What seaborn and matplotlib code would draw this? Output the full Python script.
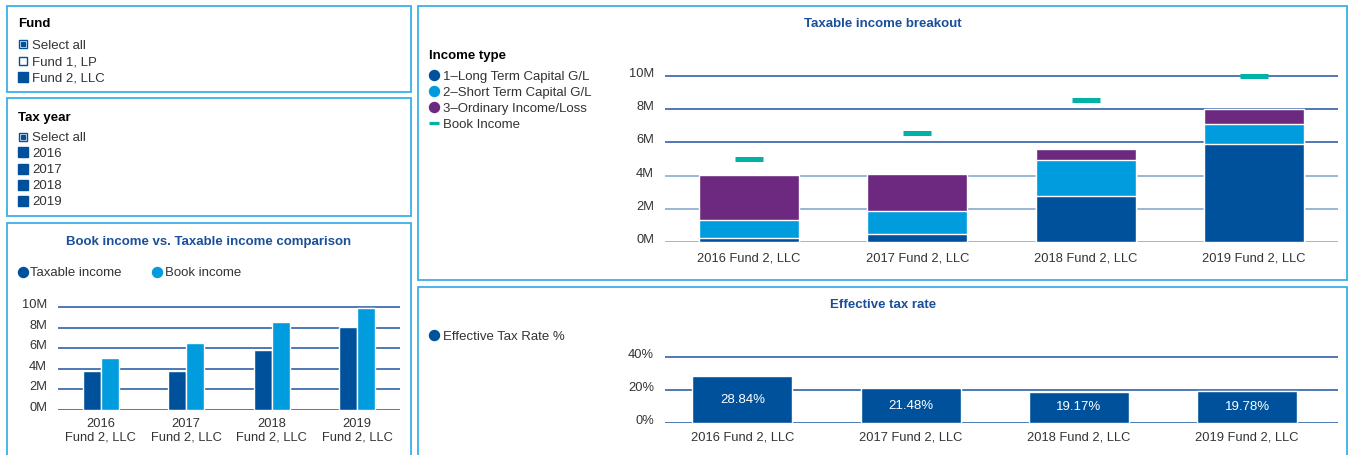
import numpy as np
import pandas as pd
import seaborn as sns
import matplotlib.pyplot as plt
from matplotlib.patches import Rectangle
from matplotlib.lines import Line2D
from matplotlib.transforms import ScaledTranslation

# data (values in millions / percent)
years = ["2016", "2017", "2018", "2019"]
fund_name = "Fund 2, LLC"
taxable_income = [3.80, 3.80, 5.84, 8.08]
book_income = [5.03, 6.55, 8.57, 9.97]
long_term = [0.24, 0.48, 2.78, 5.91]
short_term = [1.09, 1.39, 2.17, 1.21]
ordinary = [2.71, 2.23, 0.66, 0.89]
eff_tax_rate = [28.84, 21.48, 19.17, 19.78]

fund_items = [("all", "Select all"), ("off", "Fund 1, LP"), ("on", "Fund 2, LLC")]
year_items = [("all", "Select all")] + [("on", y) for y in years]
income_types = ["1–Long Term Capital G/L", "2–Short Term Capital G/L", "3–Ordinary Income/Loss"]

DARK = "#00519B"
LIGHT = "#009CDE"
PURPLE = "#6D2880"
TEAL = "#00B2A5"
TITLE = "#1A4F9B"
BORDER = "#3AB0E6"
GRID = "#1F55A0"
GRID_LIGHT = "#7FA3CE"
TXT = "#333333"

sns.set_style("white")
plt.rcParams["font.family"] = ["Liberation Sans", "DejaVu Sans"]

W, H = 1349, 455
fig = plt.figure(figsize=(W / 100, H / 100), dpi=100)


def fx(x):
    return x / W


def fy(y):
    return 1 - y / H


def add_ax(x0, x1, ytop, ybot):
    return fig.add_axes([fx(x0), fy(ybot), (x1 - x0) / W, (ybot - ytop) / H])


def panel(x0, x1, ytop, ybot):
    fig.patches.append(Rectangle((fx(x0), fy(ybot)), (x1 - x0) / W, (ybot - ytop) / H,
                                 transform=fig.transFigure, fill=False,
                                 edgecolor=BORDER, linewidth=1.3))


def label(x, y, s, bold=False, color=TXT, ha="left", size=9.5):
    # y is the visual middle of the capitals, place baseline below it
    fig.text(fx(x), fy(y + 0.36 * size * 100 / 72), s, fontsize=size, color=color, ha=ha,
             va="baseline", fontweight="bold" if bold else "normal")


def dot(x, y, color, marker="o", size=7.2, face=None):
    fig.add_artist(Line2D([fx(x)], [fy(y)], marker=marker, markersize=size,
                          markerfacecolor=face if face else color, markeredgecolor=color,
                          markeredgewidth=1.0, linestyle="none", transform=fig.transFigure))


def checkbox(x, y, state):
    if state == "on":
        dot(x, y, DARK, marker="s", size=6.9)
    else:
        dot(x, y, DARK, marker="s", size=6.2, face="white")
        if state == "all":
            dot(x, y, DARK, marker="s", size=2.2)


def style_axis(ax, ticks, fmt, pad_x, light_below=None):
    ax.set_yticks(ticks)
    ax.set_yticklabels([fmt.format(t) for t in ticks])
    ax.set_xlabel("")
    ax.set_ylabel("")
    sns.despine(ax=ax, left=True, bottom=True)
    ax.tick_params(axis="both", length=0, labelsize=9.3, colors=TXT)
    ax.tick_params(axis="y", pad=8)
    ax.tick_params(axis="x", pad=pad_x)
    ax.grid(axis="y", color=GRID, linewidth=1.1)
    ax.set_axisbelow(True)
    shift = ScaledTranslation(0, 3.5 / 100, fig.dpi_scale_trans)
    for lab in ax.get_yticklabels():
        lab.set_transform(lab.get_transform() + shift)
    if light_below is not None:
        for line, t in zip(ax.get_ygridlines(), ticks):
            if t <= light_below:
                line.set_color(GRID_LIGHT)


# panels
panel(7, 411, 6, 92)
panel(7, 411, 98, 216)
panel(7, 411, 223, 470)
panel(418, 1347, 6, 280)
panel(418, 1347, 287, 470)

# slicers
label(18, 22.5, "Fund", bold=True, color="black")
for i, (state, lab) in enumerate(fund_items):
    y = 44.3 + i * 16.2
    checkbox(22.8, y, state)
    label(32, y, lab)

label(18, 116, "Tax year", bold=True, color="black")
for i, (state, lab) in enumerate(year_items):
    y = 136.5 + i * 16
    checkbox(22.8, y, state)
    label(32, y, lab)

# Book income vs taxable income
label(209, 240.7, "Book income vs. Taxable income comparison", bold=True, color=TITLE, ha="center")
dot(23.3, 271.7, DARK)
label(30, 271.7, "Taxable income")
dot(157.2, 271.7, LIGHT)
label(165, 271.7, "Book income")

cmp_df = pd.DataFrame({
    "cat": [f"{y}\n{fund_name}" for y in years] * 2,
    "value": taxable_income + book_income,
    "kind": ["Taxable income"] * len(years) + ["Book income"] * len(years),
})
ax1 = add_ax(58, 400, 410 - 10.3 * 10.27, 410)
sns.barplot(data=cmp_df, x="cat", y="value", hue="kind",
            palette={"Taxable income": DARK, "Book income": LIGHT},
            width=0.42, gap=0, saturation=1, errorbar=None, legend=False, ax=ax1)
ax1.set_ylim(0, 10.3)
style_axis(ax1, [0, 2, 4, 6, 8, 10], "{}M", 5.5)
for lab in ax1.get_xticklabels():
    lab.set_linespacing(1.25)

# Taxable income breakout
label(883, 22.5, "Taxable income breakout", bold=True, color=TITLE, ha="center")
label(429, 54.7, "Income type", bold=True, color="black")
for i, (lab, col) in enumerate(zip(income_types, [DARK, LIGHT, PURPLE])):
    y = 75.3 + i * 16
    dot(434.3, y, col)
    label(443, y, lab)
fig.add_artist(Line2D([fx(429), fx(439)], [fy(123.3), fy(123.3)], color=TEAL,
                      linewidth=2.3, solid_capstyle="butt", transform=fig.transFigure))
label(443, 123.3, "Book Income")

brk_labels = [f"{y} {fund_name}" for y in years]
lt = np.array(long_term)
st = np.array(short_term)
od = np.array(ordinary)
ax2 = add_ax(665, 1338, 242 - 10.5 * 16.6, 242)
sns.barplot(x=brk_labels, y=lt + st + od, color=PURPLE, width=0.594, saturation=1, errorbar=None, ax=ax2)
sns.barplot(x=brk_labels, y=lt + st, color=LIGHT, width=0.594, saturation=1, errorbar=None, ax=ax2)
sns.barplot(x=brk_labels, y=lt, color=DARK, width=0.594, saturation=1, errorbar=None, ax=ax2)
ax2.plot(np.arange(len(years)), book_income, linestyle="none", marker="_",
         markersize=19.5, markeredgewidth=3.6, color=TEAL)
ax2.set_ylim(0, 10.5)
ax2.set_xlim(-0.5, 3.5)
style_axis(ax2, [0, 2, 4, 6, 8, 10], "{}M", 7.5, light_below=4)

# Effective tax rate
label(883, 303, "Effective tax rate", bold=True, color=TITLE, ha="center")
dot(434.3, 335, DARK)
label(443, 335, "Effective Tax Rate %")

ax3 = add_ax(665, 1338, 423.3 - 42 * 1.65, 423.3)
sns.barplot(x=brk_labels, y=eff_tax_rate, color=DARK, width=0.595, saturation=1, errorbar=None, ax=ax3)
ax3.bar_label(ax3.containers[0], labels=[f"{v:.2f}%" for v in eff_tax_rate],
              label_type="center", color="white", fontsize=9.5)
ax3.set_ylim(0, 42)
ax3.set_xlim(-0.46, 3.54)
style_axis(ax3, [0, 20, 40], "{}%", 6)

fig.savefig("out.png", dpi=100)
